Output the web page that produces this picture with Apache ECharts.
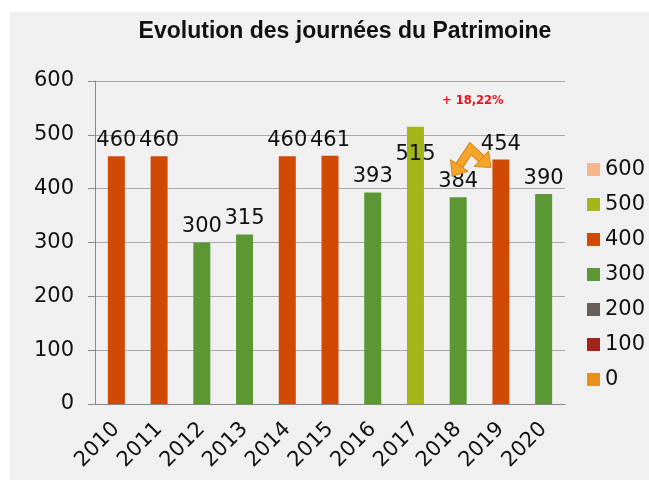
<!DOCTYPE html>
<html>
<head>
<meta charset="utf-8">
<script src="https://cdn.jsdelivr.net/npm/echarts@6/dist/echarts.min.js"></script>
<style>
  body { margin: 0; background: #ffffff; }
  #chart { position: absolute; left: 10px; top: 12px; width: 639px; height: 468px; }
</style>
</head>
<body>
<div id="chart"></div>
<script>
// données du graphique
const annees = ['2010', '2011', '2012', '2013', '2014', '2015', '2016', '2017', '2018', '2019', '2020'];
const serie600 = ['-', '-', '-', '-', '-', '-', '-', '-', '-', '-', '-'];
const serie500 = ['-', '-', '-', '-', '-', '-', '-', 515, '-', '-', '-'];
const serie400 = [460, 460, '-', '-', 460, 461, '-', '-', '-', 454, '-'];
const serie300 = ['-', '-', 300, 315, '-', '-', 393, '-', 384, '-', 390];
const serie200 = ['-', '-', '-', '-', '-', '-', '-', '-', '-', '-', '-'];
const serie100 = ['-', '-', '-', '-', '-', '-', '-', '-', '-', '-', '-'];
const serie0 = ['-', '-', '-', '-', '-', '-', '-', '-', '-', '-', '-'];
const nomsLegende = ['600', '500', '400', '300', '200', '100', '0'];
const couleurs = ['#f8b48a', '#a4b51b', '#d04a06', '#5b9833', '#675e58', '#a3231b', '#e8901c'];

const policeTitre = 'Liberation Sans, Arial, sans-serif';
const police = 'DejaVu Sans, Verdana, sans-serif';

function serieBarre(nom, donnees, couleur, decalage) {
    return {
        name: nom,
        type: 'bar',
        data: donnees,
        barWidth: 17,
        barGap: '-100%',
        itemStyle: { color: couleur },
        label: {
            show: true,
            position: 'top',
            distance: 5,
            offset: decalage || [0, 0],
            fontSize: 21,
            fontFamily: police,
            color: '#111'
        }
    };
}

const chart = echarts.init(document.getElementById('chart'));

const series = [
    serieBarre('600', serie600, couleurs[0]),
    serieBarre('500', serie500, couleurs[1], [0, 43]), // étiquette posée sur la barre
    serieBarre('400', serie400, couleurs[2]),
    serieBarre('300', serie300, couleurs[3]),
    serieBarre('200', serie200, couleurs[4]),
    serieBarre('100', serie100, couleurs[5]),
    serieBarre('0', serie0, couleurs[6])
];

chart.setOption({
    backgroundColor: '#f0f0f0',
    animation: false,
    title: {
        text: 'Evolution des journées du Patrimoine',
        left: 330,
        top: 3,
        textAlign: 'center',
        textStyle: { fontSize: 23, fontWeight: 'bold', fontFamily: policeTitre, color: '#111' }
    },
    legend: {
        orient: 'vertical',
        left: 572,
        top: 142,
        data: nomsLegende,
        itemWidth: 13,
        itemHeight: 13,
        itemGap: 14,
        icon: 'rect',
        textStyle: { fontSize: 21, fontFamily: police, color: '#111', lineHeight: 21 }
    },
    grid: { left: 85, top: 69, width: 470, height: 323 },
    xAxis: {
        type: 'category',
        data: annees,
        axisLine: { lineStyle: { color: '#8a8a8a' } },
        axisTick: { length: 6, lineStyle: { color: '#8a8a8a' } },
        axisLabel: {
            rotate: 45,
            margin: 22,
            fontSize: 21,
            fontFamily: police,
            color: '#111'
        }
    },
    yAxis: {
        type: 'value',
        min: 0,
        max: 600,
        interval: 100,
        axisLine: { show: true, lineStyle: { color: '#8a8a8a' } },
        axisTick: { show: true, length: 7, lineStyle: { color: '#8a8a8a' } },
        splitLine: { lineStyle: { color: '#a8a8a8' } },
        axisLabel: { margin: 21, fontSize: 21, fontFamily: police, color: '#111' }
    },
    series: series
});

// flèche et pourcentage entre 2018 et 2019
function pointeFleche(bout, depuis, longueur, largeur) {
    const dx = bout[0] - depuis[0], dy = bout[1] - depuis[1];
    const n = Math.sqrt(dx * dx + dy * dy);
    const ux = dx / n, uy = dy / n;
    const bx = bout[0] - ux * longueur, by = bout[1] - uy * longueur;
    return {
        base: [bx, by],
        pts: [bout, [bx - uy * largeur / 2, by + ux * largeur / 2], [bx + uy * largeur / 2, by - ux * largeur / 2]]
    };
}

const p18 = chart.convertToPixel({ seriesIndex: 3 }, ['2018', 384]);
const p19 = chart.convertToPixel({ seriesIndex: 2 }, ['2019', 454]);
const boutG = [p18[0] - 6, p18[1] - 21];
const boutD = [p19[0] - 10, p19[1] + 8];
const sommet = [(p18[0] + p19[0]) / 2 - 9, p19[1] - 11];
const tG = pointeFleche(boutG, sommet, 13, 21);
const tD = pointeFleche(boutD, sommet, 13, 21);
const trait = [tG.base, sommet, tD.base];

chart.setOption({
    graphic: [
        { type: 'polyline', shape: { points: trait }, style: { stroke: '#d18419', lineWidth: 9, fill: null, lineJoin: 'miter' }, z: 10 },
        { type: 'polyline', shape: { points: trait }, style: { stroke: '#f7a52a', lineWidth: 7, fill: null, lineJoin: 'miter' }, z: 11 },
        { type: 'polygon', shape: { points: tG.pts }, style: { fill: '#f7a52a', stroke: '#d18419', lineWidth: 1 }, z: 12 },
        { type: 'polygon', shape: { points: tD.pts }, style: { fill: '#f7a52a', stroke: '#d18419', lineWidth: 1 }, z: 12 },
        {
            type: 'text',
            left: 432,
            top: 83,
            style: { text: '+ 18,22%', fill: '#e8141b', font: 'bold 11.5px ' + police },
            z: 12
        }
    ]
});
</script>
</body>
</html>
